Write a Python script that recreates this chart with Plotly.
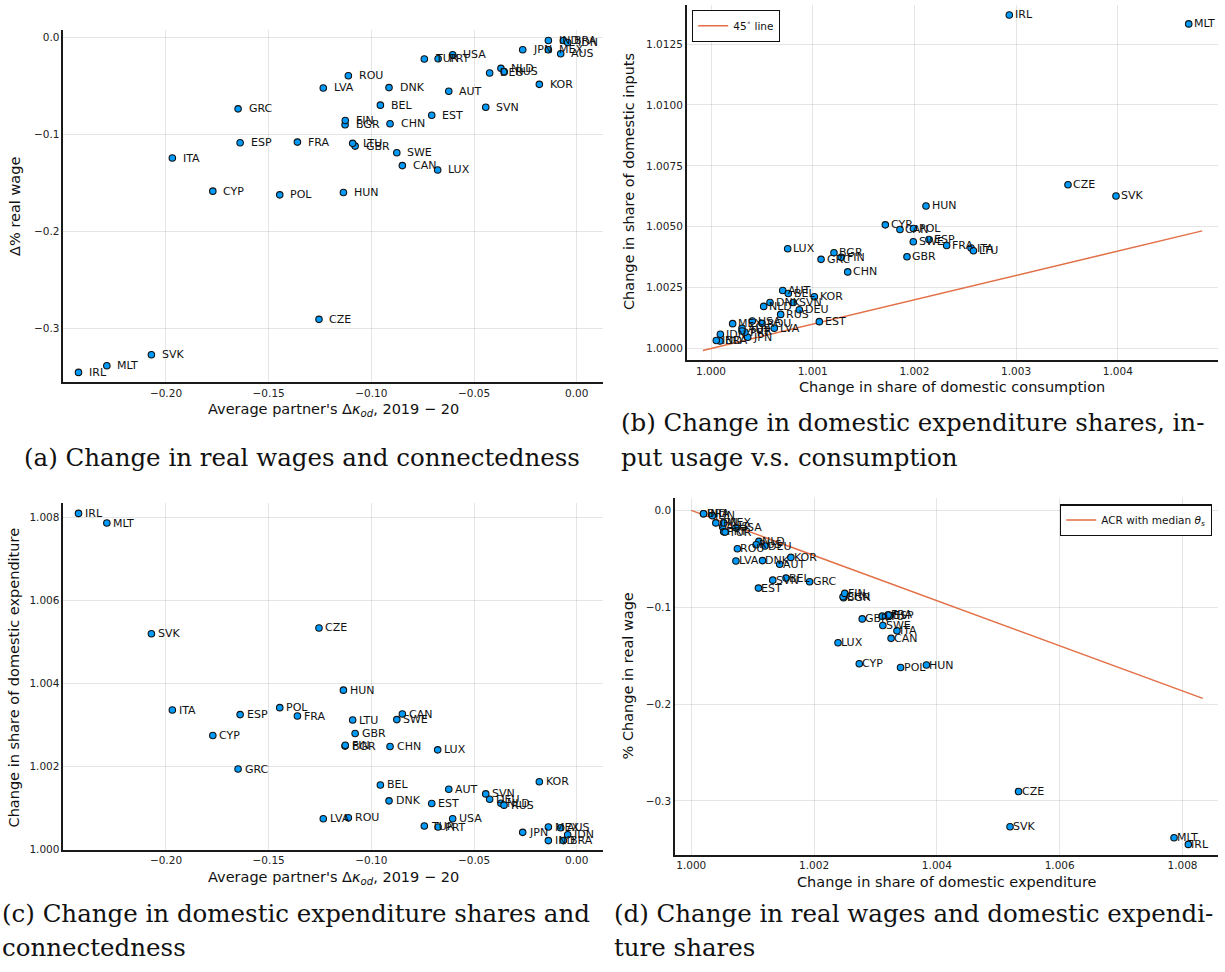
import plotly.graph_objects as go

# ---------------------------------------------------------------- data
countries = [
    "AUS", "AUT", "BEL", "BGR", "BRA", "CAN", "CHN", "CYP", "CZE", "DEU",
    "DNK", "ESP", "EST", "FIN", "FRA", "GBR", "GRC", "HUN", "IDN", "IND",
    "IRL", "ITA", "JPN", "KOR", "LTU", "LUX", "LVA", "MEX", "MLT", "NLD",
    "POL", "PRT", "ROU", "RUS", "SVK", "SVN", "SWE", "TUR", "USA",
]

# average partner's change in connectedness (kappa_od), 2019-20
kappa_change = [
    -0.0078, -0.0623, -0.0956, -0.1128, -0.0065, -0.0849, -0.0909, -0.1772, -0.1255, -0.0424,
    -0.0914, -0.1639, -0.0706, -0.1127, -0.1360, -0.1079, -0.1649, -0.1136, -0.0044, -0.0138,
    -0.2426, -0.1969, -0.0263, -0.0182, -0.1091, -0.0677, -0.1234, -0.0138, -0.2288, -0.0369,
    -0.1446, -0.0675, -0.1112, -0.0354, -0.2071, -0.0443, -0.0876, -0.0742, -0.0604,
]

# percent change in real wage
real_wage_change = [
    -0.0171, -0.0557, -0.0700, -0.0902, -0.0035, -0.1322, -0.0892, -0.1585, -0.2904, -0.0369,
    -0.0519, -0.1086, -0.0803, -0.0858, -0.1080, -0.1121, -0.0738, -0.1598, -0.0055, -0.0035,
    -0.3450, -0.1244, -0.0130, -0.0486, -0.1093, -0.1367, -0.0523, -0.0130, -0.3381, -0.0321,
    -0.1623, -0.0222, -0.0397, -0.0355, -0.3268, -0.0721, -0.1189, -0.0225, -0.0181,
]

# change in share of domestic expenditure
dom_exp_share = [
    1.000511, 1.001440, 1.001543, 1.002480, 1.000200, 1.003254, 1.002472, 1.002736, 1.005330, 1.001200,
    1.001160, 1.003240, 1.001094, 1.002500, 1.003206, 1.002784, 1.001927, 1.003830, 1.000343, 1.000200,
    1.008095, 1.003350, 1.000400, 1.001622, 1.003110, 1.002390, 1.000727, 1.000528, 1.007862, 1.001100,
    1.003408, 1.000528, 1.000751, 1.001056, 1.005191, 1.001327, 1.003120, 1.000552, 1.000727,
]

# change in share of domestic consumption
dom_cons_share = [
    1.000305, 1.000705, 1.000760, 1.001209, 1.000088, 1.001858, 1.001344, 1.001714, 1.003510, 1.000868,
    1.000580, 1.002143, 1.001065, 1.001280, 1.002317, 1.001927, 1.001082, 1.002114, 1.000092, 1.000052,
    1.002933, 1.002557, 1.000361, 1.001016, 1.002580, 1.000754, 1.000622, 1.000213, 1.004697, 1.000518,
    1.001990, 1.000334, 1.000501, 1.000685, 1.003982, 1.000809, 1.001989, 1.000305, 1.000406,
]

# change in share of domestic inputs
dom_input_share = [
    1.000829, 1.002382, 1.002259, 1.003934, 1.000310, 1.004886, 1.003145, 1.005078, 1.006724, 1.001593,
    1.001891, 1.004477, 1.001103, 1.003742, 1.004232, 1.003770, 1.003660, 1.005854, 1.000584, 1.000327,
    1.013697, 1.004126, 1.000462, 1.002124, 1.004016, 1.004097, 1.000829, 1.001021, 1.013329, 1.001728,
    1.004928, 1.000666, 1.001033, 1.001401, 1.006263, 1.001891, 1.004383, 1.000719, 1.001127,
]

# reference lines
line45_x = [0.99992, 1.00483]
line45_y = [0.99992, 1.00483]
acr_x = [1.0000, 1.00833]
acr_y = [0.0, -0.1942]

# ---------------------------------------------------------------- styling
W, H = 1225, 972
BLUE = "#009AFA"
ORANGE = "#E26F46"
SANS = "DejaVu Sans"
SERIF = "DejaVu Serif"


def fx(p):
    return p / W


def fy(p):
    return 1 - p / H


def fmt_ticks(vals, nd):
    return [f"{v:.{nd}f}".replace("-", "\u2212") for v in vals]


kappa_ticks = [-0.20, -0.15, -0.10, -0.05, 0.00]
wage_ticks = [0.0, -0.1, -0.2, -0.3]
exp_ticks = [1.000, 1.002, 1.004, 1.006, 1.008]
cons_ticks = [1.000, 1.001, 1.002, 1.003, 1.004]
input_ticks = [1.0000, 1.0025, 1.0050, 1.0075, 1.0100, 1.0125]

panels = [
    dict(xs=kappa_change, ys=real_wage_change, box=(63.3, 603.0, 30.0, 384.3),
         xr=(-0.2500, 0.0128), yr=(-0.3552, 0.0075),
         xt=(kappa_ticks, 2), yt=(wage_ticks, 1), shift=8.5),
    dict(xs=dom_cons_share, ys=dom_input_share, box=(686.7, 1218.0, 5.0, 362.3),
         xr=(0.999761, 1.004985), yr=(0.99951, 1.014106),
         xt=(cons_ticks, 3), yt=(input_ticks, 4), shift=3.5),
    dict(xs=kappa_change, ys=dom_exp_share, box=(63.3, 603.0, 506.0, 854.3),
         xr=(-0.2500, 0.0128), yr=(0.999976, 1.008336),
         xt=(kappa_ticks, 2), yt=(exp_ticks, 3), shift=4.5),
    dict(xs=dom_exp_share, ys=real_wage_change, box=(675.0, 1218.0, 501.0, 859.0),
         xr=(0.999735, 1.008578), yr=(-0.3555, 0.0123),
         xt=(exp_ticks, 3), yt=(wage_ticks, 1), shift=1.0),
]

fig = go.Figure()
annotations = []
layout_axes = {}

for i, p in enumerate(panels, start=1):
    sfx = "" if i == 1 else str(i)
    xa, ya = "x" + sfx, "y" + sfx
    x0, x1, y0, y1 = p["box"]
    common = dict(
        showline=True, linecolor="#1a1a1a", linewidth=1.5, mirror=False,
        showgrid=True, gridcolor="rgba(0,0,0,0.10)", gridwidth=1,
        zeroline=False, ticks="", tickfont=dict(family=SANS, size=10.5, color="#222"),
        fixedrange=True,
    )
    layout_axes["xaxis" + sfx] = dict(
        common, domain=[fx(x0), fx(x1)], range=list(p["xr"]), anchor=ya,
        tickmode="array", tickvals=p["xt"][0], ticktext=fmt_ticks(*p["xt"]),
    )
    layout_axes["yaxis" + sfx] = dict(
        common, domain=[fy(y1), fy(y0)], range=list(p["yr"]), anchor=xa,
        tickmode="array", tickvals=p["yt"][0], ticktext=fmt_ticks(*p["yt"]),
    )

    if i == 2:
        fig.add_trace(go.Scatter(
            x=line45_x, y=line45_y, mode="lines", xaxis=xa, yaxis=ya,
            line=dict(color=ORANGE, width=1.5), name="45<sup>\u2218</sup> line",
            legend="legend", showlegend=True,
        ))
    if i == 4:
        fig.add_trace(go.Scatter(
            x=acr_x, y=acr_y, mode="lines", xaxis=xa, yaxis=ya,
            line=dict(color=ORANGE, width=1.5),
            name="ACR with median <i>\u03b8</i><sub><i>s</i></sub>",
            legend="legend2", showlegend=True,
        ))

    fig.add_trace(go.Scatter(
        x=p["xs"], y=p["ys"], mode="markers", xaxis=xa, yaxis=ya, showlegend=False,
        marker=dict(color=BLUE, size=6.5, line=dict(color="#111", width=1.1)),
        cliponaxis=False,
    ))

    for name, xv, yv in zip(countries, p["xs"], p["ys"]):
        annotations.append(dict(
            x=xv, y=yv, xref=xa, yref=ya, text=name, showarrow=False,
            xanchor="left", yanchor="middle", xshift=p["shift"],
            font=dict(family=SANS, size=11, color="#111"),
        ))

# axis titles
axis_title_font = dict(family=SANS, size=14.5, color="#111")
kappa_title = "Average partner's \u0394<i>\u03ba</i><sub><i>od</i></sub>, 2019 \u2212 20"
axis_titles = [
    (kappa_title, 333.0, 412.0, 0),
    ("\u0394% real wage", 15.0, 208.0, -90),
    ("Change in share of domestic consumption", 952.0, 389.0, 0),
    ("Change in share of domestic inputs", 629.0, 183.0, -90),
    (kappa_title, 333.0, 883.0, 0),
    ("Change in share of domestic expenditure", 14.0, 681.0, -90),
    ("Change in share of domestic expenditure", 946.5, 887.0, 0),
    ("% Change in real wage", 628.0, 680.0, -90),
]
for text, px, py, ang in axis_titles:
    annotations.append(dict(
        x=fx(px), y=fy(py), xref="paper", yref="paper", text=text, showarrow=False,
        xanchor="center", yanchor="middle", textangle=ang, font=axis_title_font,
    ))

# sub-figure captions
caption_font = dict(family=SERIF, size=24.5, color="#111")
captions = [
    ("(a) Change in real wages and connectedness", 22.0, 460.0),
    ("(b) Change in domestic expenditure shares, in-", 619.0, 425.0),
    ("put usage v.s. consumption", 619.0, 460.0),
    ("(c) Change in domestic expenditure shares and", 0.0, 918.0),
    ("connectedness", 0.0, 952.0),
    ("(d) Change in real wages and domestic expendi-", 612.0, 918.0),
    ("ture shares", 612.0, 952.0),
]
for text, px, py in captions:
    annotations.append(dict(
        x=fx(px), y=fy(py), xref="paper", yref="paper", text=text, showarrow=False,
        xanchor="left", yanchor="middle", font=caption_font,
    ))

legend_style = dict(
    bgcolor="white", bordercolor="#111", borderwidth=1.2,
    font=dict(family=SANS, size=10.5, color="#111"),
    itemwidth=30, tracegroupgap=0,
)

fig.update_layout(
    width=W, height=H,
    margin=dict(l=0, r=0, t=0, b=0),
    paper_bgcolor="white", plot_bgcolor="white",
    showlegend=True,
    legend=dict(legend_style, x=fx(692), y=fy(10), xanchor="left", yanchor="top"),
    legend2=dict(legend_style, x=fx(1212), y=fy(507), xanchor="right", yanchor="top"),
    annotations=annotations,
    **layout_axes,
)

fig.write_html("out.html")
